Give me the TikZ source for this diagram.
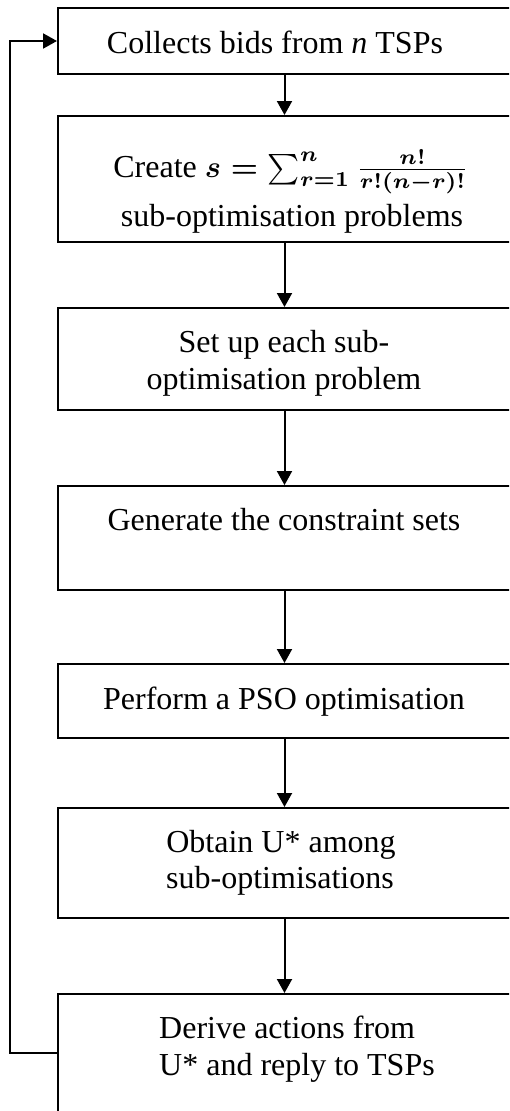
\documentclass[tikz,border=0pt]{standalone}
\usepackage{fontspec}
\usepackage{graphicx}
\setmainfont{Liberation Serif}
\usetikzlibrary{arrows.meta}
\newcommand{\sformula}{{\fontsize{10}{12}\selectfont\scalebox{3.05}{\boldmath$s=\sum_{r=1}^{n}\frac{n!}{r!(n-r)!}$}}}
\begin{document}
\begin{tikzpicture}[x=1pt,y=-1pt,
  box/.style={draw, line width=2pt, rectangle, inner sep=0pt, minimum width=453pt},
  lbl/.style={anchor=base, inner sep=0pt, font=\fontsize{32}{37}\selectfont},
  lblw/.style={anchor=base west, inner sep=0pt, font=\fontsize{32}{37}\selectfont},
  arr/.style={line width=2pt, -{Triangle[length=14pt,width=15pt]}}]
\useasboundingbox (0,0) rectangle (509,1111);
\clip (0,0) rectangle (509,1111);
% boxes
\node[box, minimum height=66pt]  (b1) at (284.5,41) {};
\node[box, minimum height=126pt] (b2) at (284.5,179) {};
\node[box, minimum height=102pt] (b3) at (284.5,359) {};
\node[box, minimum height=104pt] (b4) at (284.5,538) {};
\node[box, minimum height=74pt]  (b5) at (284.5,701) {};
\node[box, minimum height=110pt] (b6) at (284.5,863) {};
\node[box, minimum height=130pt] (b7) at (284.5,1059) {};
% texts
\node[lbl] (t1) at (275,53) {Collects bids from \textit{n} TSPs};
\node[lbl] (t2a) at (291,177) {Create \sformula};
\node[lbl] (t2b) at (292,226) {sub-optimisation problems};
\node[lbl] (t3a) at (284,352) {Set up each sub-};
\node[lbl] (t3b) at (284,389) {optimisation problem};
\node[lbl] (t4) at (284,530) {Generate the constraint sets};
\node[lbl] (t5) at (284,709) {Perform a PSO optimisation};
\node[lbl] (t6a) at (281,852) {Obtain U* among};
\node[lbl] (t6b) at (280,888) {sub-optimisations};
\node[lblw] (t7a) at (159,1038) {Derive actions from};
\node[lblw] (t7b) at (159,1075) {U* and reply to TSPs};
% connectors
\draw[arr] (b1.south) -- (b2.north);
\draw[arr] (b2.south) -- (b3.north);
\draw[arr] (b3.south) -- (b4.north);
\draw[arr] (b4.south) -- (b5.north);
\draw[arr] (b5.south) -- (b6.north);
\draw[arr] (b6.south) -- (b7.north);
\coordinate (fbA) at (10,1053);
\coordinate (fbB) at (10,41);
\draw[arr] (b7.west |- fbA) -- (fbA) -- (fbB) -- (b1.west);
\end{tikzpicture}
\end{document}
